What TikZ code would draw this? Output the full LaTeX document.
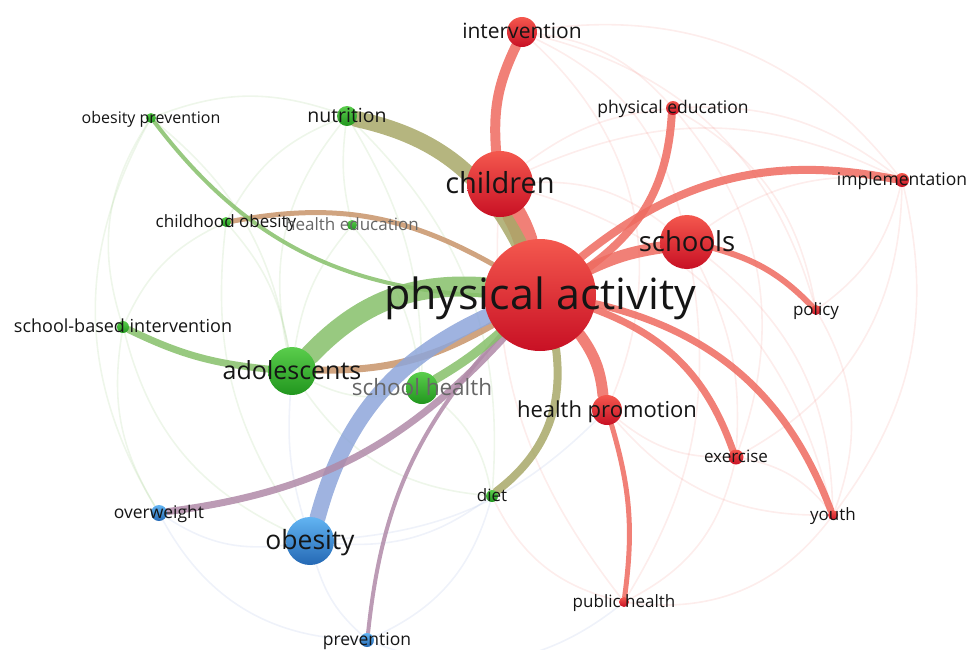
\documentclass[tikz,border=0pt]{standalone}
\usepackage{fontspec}
\setmainfont{Open Sans}
\usepackage{xcolor}

\definecolor{vosredlt}{HTML}{F4584E}
\definecolor{vosreddk}{HTML}{C81024}
\definecolor{vosgreenlt}{HTML}{5ACD4C}
\definecolor{vosgreendk}{HTML}{21961E}
\definecolor{vosbluelt}{HTML}{62B4F2}
\definecolor{vosbluedk}{HTML}{2468B4}
\definecolor{edgered}{HTML}{EE6A5F}
\definecolor{edgegreen}{HTML}{86C06A}
\definecolor{edgeolive}{HTML}{A8A868}
\definecolor{edgebrown}{HTML}{C8946A}
\definecolor{edgeblue}{HTML}{8EA6DA}
\definecolor{edgeplum}{HTML}{B08AA8}
\definecolor{labelink}{HTML}{151515}
\definecolor{labelgray}{HTML}{666666}

\pgfdeclarelayer{faint}
\pgfdeclarelayer{back}
\pgfsetlayers{faint,back,main}

\begin{document}
\begin{tikzpicture}[x=1pt, y=-1pt,
    bubble/.style={circle, inner sep=0pt, minimum size=#1},
    redbub/.style={bubble=#1, top color=vosredlt, bottom color=vosreddk},
    greenbub/.style={bubble=#1, top color=vosgreenlt, bottom color=vosgreendk},
    bluebub/.style={bubble=#1, top color=vosbluelt, bottom color=vosbluedk},
    lbl/.style={inner sep=0pt, text=labelink, anchor=base, yshift=-#1*0.33pt,
                font=\fontsize{#1}{#1}\selectfont},
    dimlbl/.style={lbl=#1, text=labelgray},
    link/.style={line cap=round, opacity=0.85},
    faintr/.style={draw=edgered, opacity=0.12, line width=1.6pt},
    faintg/.style={draw=edgegreen, opacity=0.14, line width=1.6pt},
    faintb/.style={draw=edgeblue, opacity=0.14, line width=1.6pt}]

    \useasboundingbox (0,0) rectangle (974,649);

    % keyword bubbles
    \node[redbub=112pt] (pa) at (540,295) {};
    \node[redbub=66pt] (children) at (500,184) {};
    \node[redbub=30pt] (interv) at (522,32) {};
    \node[redbub=14pt] (physed) at (673,108) {};
    \node[redbub=14pt] (implem) at (902,180) {};
    \node[redbub=54pt] (schools) at (687,242) {};
    \node[redbub=10pt] (policy) at (816,310) {};
    \node[redbub=30pt] (healthpro) at (607,410) {};
    \node[redbub=15pt] (exercise) at (736,457) {};
    \node[redbub=10pt] (youth) at (833,515) {};
    \node[redbub=10pt] (pubhealth) at (624,602) {};
    \node[greenbub=12pt] (diet) at (492,496) {};
    \node[greenbub=32pt] (schhealth) at (422,388) {};
    \node[greenbub=48pt] (adoles) at (292,371) {};
    \node[greenbub=12pt] (schbased) at (123,327) {};
    \node[greenbub=10pt] (childob) at (226,222) {};
    \node[greenbub=10pt] (healthedu) at (352,225) {};
    \node[greenbub=10pt] (obprev) at (151,118) {};
    \node[greenbub=20pt] (nutrition) at (347,116) {};
    \node[bluebub=48pt] (obesity) at (310,541) {};
    \node[bluebub=16pt] (overweight) at (159,513) {};
    \node[bluebub=14pt] (prevention) at (367,640) {};

    % weak links
    \begin{pgfonlayer}{faint}
    \draw[faintr] (interv) to[bend left=30] (implem);
    \draw[faintr] (interv) to[bend left=20] (physed);
    \draw[faintr] (interv) to[bend left=25] (schools);
    \draw[faintr] (interv) to[bend left=30] (policy);
    \draw[faintr] (interv) to[bend left=35] (healthpro);
    \draw[faintr] (children) to[bend left=20] (schools);
    \draw[faintr] (children) to[bend left=25] (implem);
    \draw[faintr] (children) to[bend left=15] (physed);
    \draw[faintr] (children) to[bend left=30] (youth);
    \draw[faintr] (children) to[bend right=20] (pubhealth);
    \draw[faintr] (physed) to[bend left=20] (implem);
    \draw[faintr] (physed) to[bend left=25] (policy);
    \draw[faintr] (physed) to[bend left=30] (exercise);
    \draw[faintr] (schools) to[bend left=20] (implem);
    \draw[faintr] (schools) to[bend left=25] (youth);
    \draw[faintr] (schools) to[bend left=15] (exercise);
    \draw[faintr] (schools) to[bend left=20] (pubhealth);
    \draw[faintr] (implem) to[bend left=20] (policy);
    \draw[faintr] (implem) to[bend left=25] (youth);
    \draw[faintr] (implem) to[bend left=30] (exercise);
    \draw[faintr] (healthpro) to[bend right=20] (exercise);
    \draw[faintr] (healthpro) to[bend right=25] (youth);
    \draw[faintr] (pubhealth) to[bend right=25] (exercise);
    \draw[faintr] (pubhealth) to[bend right=30] (youth);
    \draw[faintr] (exercise) to[bend left=20] (youth);
    \draw[faintr] (policy) to[bend left=25] (youth);
    \draw[faintr] (pubhealth) to[bend left=25] (diet);
    \draw[faintg] (nutrition) to[bend right=20] (childob);
    \draw[faintg] (nutrition) to[bend right=10] (healthedu);
    \draw[faintg] (nutrition) to[bend right=25] (adoles);
    \draw[faintg] (nutrition) to[bend left=15] (schhealth);
    \draw[faintg] (nutrition) to[bend left=25] (diet);
    \draw[faintg] (obprev) to[bend left=20] (nutrition);
    \draw[faintg] (obprev) to[bend right=25] (schbased);
    \draw[faintg] (obprev) to[bend right=30] (overweight);
    \draw[faintg] (obprev) to[bend left=20] (adoles);
    \draw[faintg] (childob) to[bend right=20] (schbased);
    \draw[faintg] (childob) to[bend left=15] (adoles);
    \draw[faintg] (childob) to[bend right=20] (obesity);
    \draw[faintg] (healthedu) to[bend left=15] (schhealth);
    \draw[faintg] (healthedu) to[bend right=15] (adoles);
    \draw[faintg] (schhealth) to[bend left=20] (adoles);
    \draw[faintg] (schhealth) to[bend left=20] (diet);
    \draw[faintg] (adoles) to[bend right=25] (diet);
    \draw[faintg] (schbased) to[bend right=25] (obesity);
    \draw[faintg] (schbased) to[bend right=20] (overweight);
    \draw[faintb] (adoles) to[bend right=10] (obesity);
    \draw[faintb] (overweight) to[bend right=20] (obesity);
    \draw[faintb] (overweight) to[bend right=30] (prevention);
    \draw[faintb] (obesity) to[bend right=15] (prevention);
    \draw[faintb] (obesity) to[bend right=20] (diet);
    \draw[faintb] (prevention) to[bend right=25] (diet);
    \draw[faintb] (prevention) to[bend right=30] (pubhealth);
    \draw[faintb] (obesity) to[bend right=20] (healthpro);
    \end{pgfonlayer}

    % strong links
    \begin{pgfonlayer}{back}
    \draw[link, draw=edgered, line width=24pt] (pa) to[bend right=5] (children);
    \draw[link, draw=edgered, line width=10pt] (children) to[bend left=15] (interv);
    \draw[link, draw=edgered, line width=8pt] (pa) to[bend right=25] (physed);
    \draw[link, draw=edgered, line width=8pt] (pa) to[bend left=25] (implem);
    \draw[link, draw=edgered, line width=12pt] (pa) to[bend left=8] (schools);
    \draw[link, draw=edgered, line width=6pt] (schools) to[bend left=15] (policy);
    \draw[link, draw=edgered, line width=11pt] (pa) to[bend left=15] (healthpro);
    \draw[link, draw=edgered, line width=5pt] (healthpro) to[bend left=12] (pubhealth);
    \draw[link, draw=edgered, line width=7pt] (pa) to[bend left=25] (exercise);
    \draw[link, draw=edgered, line width=7pt] (pa) to[bend left=28] (youth);
    \draw[link, draw=edgeolive, line width=8pt] (pa) to[bend left=30] (diet);
    \draw[link, draw=edgegreen, line width=20pt] (adoles) to[bend left=25] (pa);
    \draw[link, draw=edgebrown, line width=7pt] (adoles) to[bend right=15] (pa);
    \draw[link, draw=edgeolive, line width=16pt] (nutrition) to[bend left=25] (pa);
    \draw[link, draw=edgebrown, line width=5pt] (childob) to[bend left=20] (pa);
    \draw[link, draw=edgegreen, line width=4pt] (obprev) to[bend right=25] (pa);
    \draw[link, draw=edgegreen, line width=7pt] (schbased) to[bend right=10] (adoles);
    \draw[link, draw=edgeblue, line width=16pt] (obesity) to[bend left=25] (pa);
    \draw[link, draw=edgeplum, line width=7pt] (overweight) to[bend right=20] (pa);
    \draw[link, draw=edgeplum, line width=4pt] (prevention) to[bend left=18] (pa);
    \draw[link, draw=edgegreen, line width=9pt] (schhealth) to[bend right=5] (pa);
    \end{pgfonlayer}

    % keyword labels
    \node[lbl=43] (pa-t) at (pa) {physical activity};
    \node[lbl=29] (children-t) at (children) {children};
    \node[lbl=21] (interv-t) at (interv) {intervention};
    \node[lbl=17.5] (physed-t) at (physed) {physical education};
    \node[lbl=17.5] (implem-t) at (implem) {implementation};
    \node[lbl=27.5] (schools-t) at (schools) {schools};
    \node[lbl=17] (policy-t) at (policy) {policy};
    \node[lbl=22] (healthpro-t) at (healthpro) {health promotion};
    \node[lbl=17] (exercise-t) at (exercise) {exercise};
    \node[lbl=17] (youth-t) at (youth) {youth};
    \node[lbl=17] (pubhealth-t) at (pubhealth) {public health};
    \node[lbl=17] (diet-t) at (diet) {diet};
    \node[dimlbl=22.5] (schhealth-t) at (schhealth) {school health};
    \node[lbl=25] (adoles-t) at (adoles) {adolescents};
    \node[lbl=18] (schbased-t) at (schbased) {school-based intervention};
    \node[lbl=17] (childob-t) at (childob) {childhood obesity};
    \node[dimlbl=17] (healthedu-t) at (healthedu) {health education};
    \node[lbl=16] (obprev-t) at (obprev) {obesity prevention};
    \node[lbl=19.5] (nutrition-t) at (nutrition) {nutrition};
    \node[lbl=26.5] (obesity-t) at (obesity) {obesity};
    \node[lbl=17.5] (overweight-t) at (overweight) {overweight};
    \node[lbl=17.5] (prevention-t) at (prevention) {prevention};
\end{tikzpicture}
\end{document}
